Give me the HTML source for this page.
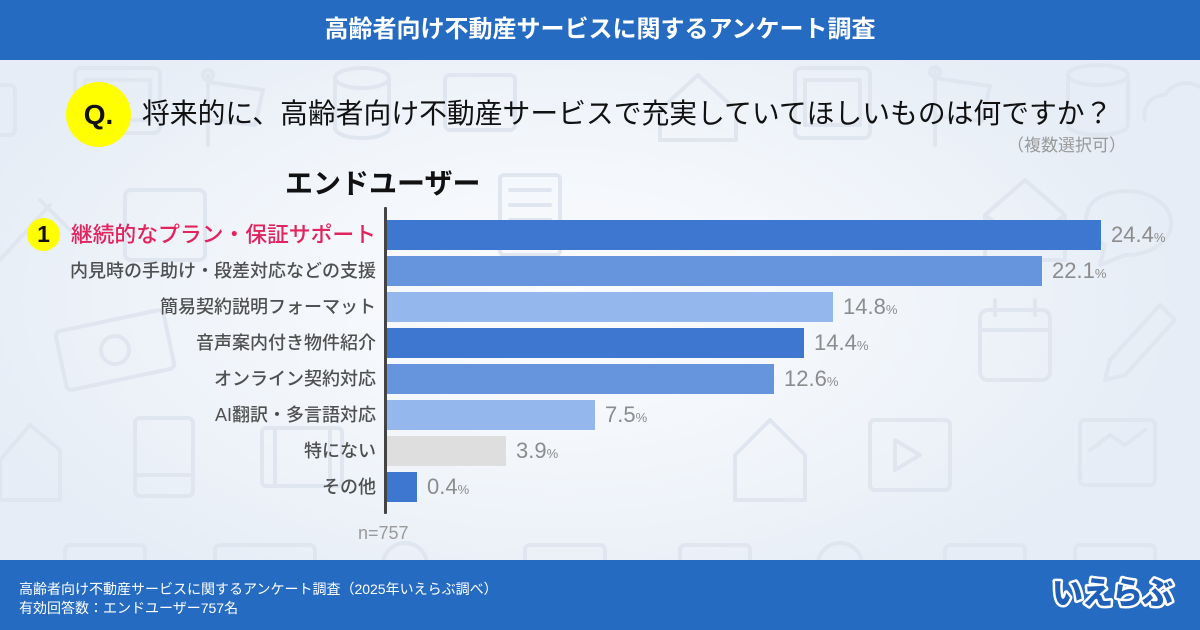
<!DOCTYPE html>
<html><head><meta charset="utf-8">
<style>
*{margin:0;padding:0;box-sizing:border-box}
html,body{width:1200px;height:630px;overflow:hidden}
body{position:relative;font-family:"Liberation Sans","Noto Sans CJK JP",sans-serif;background:#e8eef7}
.bg{position:absolute;left:0;top:60px;width:1200px;height:500px;background:radial-gradient(ellipse 620px 330px at 560px 240px,#fbfcfe 0%,#f1f5fa 55%,#e6edf6 100%)}
.abs{position:absolute;white-space:nowrap}
.hdr{position:absolute;left:0;top:0;width:1200px;height:60px;background:#256bc2;color:#fff;font-weight:bold;font-size:24px;line-height:60px;text-align:center;font-family:"Liberation Sans","Noto Sans CJK JP",sans-serif}
.ftr{position:absolute;left:0;top:560px;width:1200px;height:70px;background:#256bc2}
.lbl{position:absolute;right:824px;height:30px;line-height:30px;font-size:18px;color:#505050;text-align:right;white-space:nowrap;font-weight:500}
.bar{position:absolute;left:387px;height:30px}
.val{position:absolute;height:30px;line-height:30px;font-size:22px;color:#8c8c8c;white-space:nowrap;font-family:"Liberation Sans",sans-serif}
.val small{font-size:13px}
</style></head><body>
<div class="bg"></div>
<svg class="abs" style="left:0;top:60px" width="1200" height="500" viewBox="0 60 1200 500" fill="none" stroke="#dfe6f0" stroke-width="4" stroke-linejoin="round" stroke-linecap="round">
 <rect x="-20" y="85" width="35" height="50" rx="5"/>
 <rect x="75" y="68" width="85" height="65" rx="6"/><rect x="85" y="80" width="65" height="40"/>
 <path d="M208 75 v70 M208 82 l55 8 l-8 35 l-47 -5"/><circle cx="208" cy="75" r="5"/>
 <ellipse cx="362" cy="78" rx="27" ry="10"/><path d="M335 78 v50 a27 10 0 0 0 54 0 v-50"/>
 <rect x="445" y="75" width="70" height="55" rx="5"/>
 <path d="M660 110 l38 -35 l38 35 v30 h-76z"/>
 <rect x="795" y="68" width="75" height="70" rx="6"/><rect x="805" y="80" width="55" height="45"/>
 <path d="M935 70 v75 M935 78 l55 8 l-8 35 l-47 -5"/><circle cx="935" cy="72" r="5"/>
 <ellipse cx="1098" cy="75" rx="30" ry="10"/><path d="M1068 75 v50 a30 10 0 0 0 60 0 v-50"/>
 <path d="M1145 120 a20 20 0 0 1 20 -25 a25 25 0 0 1 45 5"/>
 <path d="M0 260 l50 -55 M40 200 l30 30"/>
 <rect x="125" y="190" width="80" height="70" rx="6"/>
 <rect x="500" y="175" width="60" height="80" rx="4"/><path d="M510 190 h40 M510 205 h40 M510 220 h40"/>
 <path d="M985 215 l40 -35 l40 35 v45 h-80z M985 215 l40 30 l40 -30"/>
 <path d="M1095 200 a45 32 0 1 1 30 55 l-25 10 l5 -20 a45 32 0 0 1 -10 -45z"/>
 <g transform="rotate(-12 115 350)"><rect x="60" y="320" width="110" height="60" rx="5"/><circle cx="115" cy="350" r="14"/></g>
 <rect x="980" y="310" width="70" height="70" rx="8"/><path d="M995 300 v15 M1035 300 v15 M980 330 h70"/>
 <path d="M1110 360 l50 -55 l15 15 l-50 55 l-20 5z"/>
 <path d="M0 460 l30 -35 l30 25 v50 h-60z"/>
 <rect x="135" y="418" width="58" height="78" rx="5"/><path d="M135 475 h58"/>
 <rect x="262" y="428" width="80" height="58" rx="4"/><path d="M275 428 v58 M330 428 v58"/>
 <path d="M735 455 l35 -35 l35 35 v45 h-70z"/>
 <rect x="870" y="420" width="80" height="70" rx="5"/><path d="M895 440 l25 15 l-25 15z"/>
 <rect x="1080" y="420" width="75" height="65" rx="5"/><path d="M1090 450 l20 -15 l15 10 l20 -15"/>
 <rect x="65" y="545" width="80" height="40" rx="5"/><rect x="215" y="545" width="100" height="40" rx="5"/>
 <circle cx="405" cy="565" r="22"/><rect x="525" y="545" width="80" height="40" rx="5"/>
 <rect x="680" y="545" width="70" height="40" rx="5"/><circle cx="840" cy="565" r="22"/>
 <rect x="945" y="545" width="80" height="40" rx="5"/><rect x="1075" y="545" width="80" height="40" rx="5"/>
</svg>

<div class="hdr">高齢者向け不動産サービスに関するアンケート調査</div>

<div class="abs" style="left:66px;top:82px;width:65px;height:65px;border-radius:50%;background:#ffff00"></div>
<div class="abs" style="left:66px;top:82px;width:65px;height:65px;line-height:65px;text-align:center;font-size:28px;font-weight:bold;color:#111;font-family:'Liberation Sans',sans-serif">Q.</div>
<div class="abs" style="left:142px;top:96px;height:36px;line-height:36px;font-size:27.8px;color:#111">将来的に、高齢者向け不動産サービスで充実していてほしいものは何ですか？</div>
<div class="abs" style="left:1007px;top:134px;height:24px;line-height:24px;font-size:17px;color:#999">（複数選択可）</div>

<div class="abs" style="left:285px;top:167px;height:34px;line-height:34px;font-size:28px;font-weight:bold;color:#111">エンドユーザー</div>

<div class="abs" style="left:384px;top:207px;width:3px;height:307px;background:#444;border-radius:1px"></div>

<div class="abs" style="left:27px;top:218px;width:33px;height:33px;border-radius:50%;background:#ffff00;text-align:center;line-height:33px;font-size:23px;font-weight:bold;color:#111;font-family:'Liberation Sans',sans-serif">1</div>
<div class="lbl" style="top:220px;font-size:21.8px;color:#e2245e">継続的なプラン・保証サポート</div>
<div class="lbl" style="top:256px">内見時の手助け・段差対応などの支援</div>
<div class="lbl" style="top:292px">簡易契約説明フォーマット</div>
<div class="lbl" style="top:328px">音声案内付き物件紹介</div>
<div class="lbl" style="top:364px">オンライン契約対応</div>
<div class="lbl" style="top:400px">AI翻訳・多言語対応</div>
<div class="lbl" style="top:436px">特にない</div>
<div class="lbl" style="top:472px">その他</div>

<div class="bar" style="top:220px;width:714px;background:#3d77d0"></div>
<div class="bar" style="top:256px;width:655px;background:#6795dd"></div>
<div class="bar" style="top:292px;width:446px;background:#94b7ee"></div>
<div class="bar" style="top:328px;width:417px;background:#3d77d0"></div>
<div class="bar" style="top:364px;width:387px;background:#6795dd"></div>
<div class="bar" style="top:400px;width:208px;background:#94b7ee"></div>
<div class="bar" style="top:436px;width:119px;background:#dedede"></div>
<div class="bar" style="top:472px;width:30px;background:#3d77d0"></div>

<div class="val" style="left:1111px;top:220px">24.4<small>%</small></div>
<div class="val" style="left:1052px;top:256px">22.1<small>%</small></div>
<div class="val" style="left:843px;top:292px">14.8<small>%</small></div>
<div class="val" style="left:814px;top:328px">14.4<small>%</small></div>
<div class="val" style="left:784px;top:364px">12.6<small>%</small></div>
<div class="val" style="left:605px;top:400px">7.5<small>%</small></div>
<div class="val" style="left:516px;top:436px">3.9<small>%</small></div>
<div class="val" style="left:427px;top:472px">0.4<small>%</small></div>

<div class="abs" style="left:358px;top:522px;height:22px;line-height:22px;font-size:18px;color:#9a9a9a;font-family:'Liberation Sans',sans-serif">n=757</div>

<div class="ftr"></div>
<div class="abs" style="left:19px;top:579px;height:20px;line-height:20px;font-size:14px;color:#fff">高齢者向け不動産サービスに関するアンケート調査（2025年いえらぶ調べ）</div>
<div class="abs" style="left:19px;top:598px;height:20px;line-height:20px;font-size:14px;color:#fff">有効回答数：エンドユーザー757名</div>
<svg class="abs" style="left:1040px;top:572px" width="145" height="42" viewBox="0 0 145 42">
 <text x="72" y="32" text-anchor="middle" font-family="'Noto Sans CJK JP',sans-serif" font-weight="900" font-size="31" fill="#1f5fb8" stroke="#fff" stroke-width="5" stroke-linejoin="round" paint-order="stroke" letter-spacing="-1">いえらぶ</text>
</svg>
</body></html>
